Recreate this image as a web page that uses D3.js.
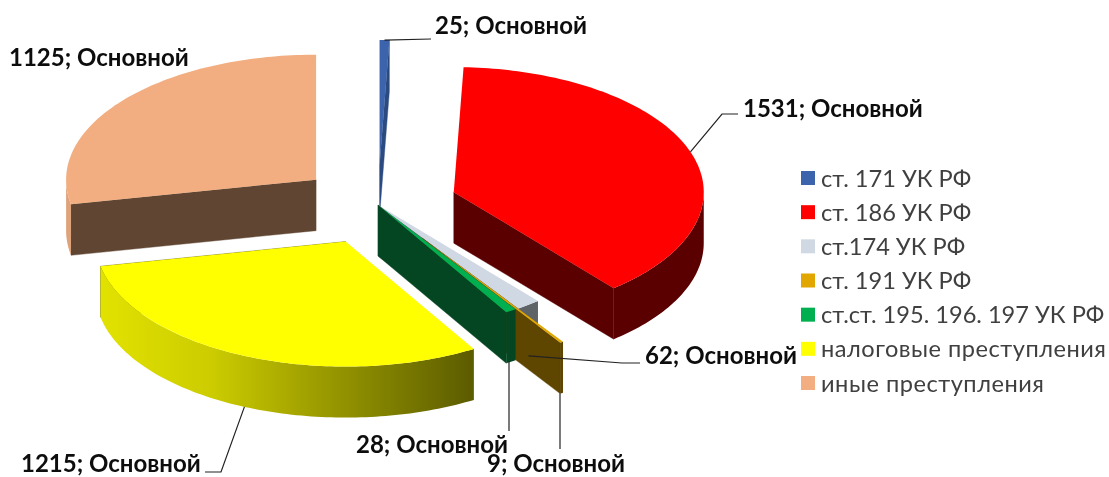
<!DOCTYPE html>
<html><head><meta charset="utf-8">
<script src="https://cdnjs.cloudflare.com/ajax/libs/d3/7.8.5/d3.min.js"></script>
<style>html,body{margin:0;padding:0;background:#fff}svg{display:block;filter:blur(0.35px)}</style>
</head><body><svg id="c" width="1109" height="477"></svg>
<script>
const categories = ["ст. 171 УК РФ","ст. 186 УК РФ","ст.174 УК РФ","ст. 191 УК РФ","ст.ст. 195. 196. 197 УК РФ","налоговые преступления","иные преступления"];
const values = [25,1531,62,9,28,1215,1125];
const seriesName = "Основной";
const colors = ["#3b64ad","#ff0000","#d0d8e4","#e2a600","#00b050","#ffff00","#f2ae81"];
const radialWall = ["#2b4a80","#5a0000","#5e6368","#5e4500","#044622","#5e5e00","#604632"];
const outerWall = ["#2b4a80","#5a0000","#5e6368","#5e4500","#044622",null,"#dfa37c"];
const explodedSlices = new Set([0,1,3,5,6]);

const W=1109,H=477, cx=378, cy=205, R=250, tilt=0.5, depth=51, explode=80;
const svg=d3.select("#c");
const defs=svg.append("defs");
const yg=defs.append("linearGradient").attr("id","yw").attr("gradientUnits","userSpaceOnUse")
  .attr("x1",100).attr("x2",472).attr("y1",0).attr("y2",0);
[[0,"#e2e200"],[0.3,"#cccc00"],[0.55,"#a2a200"],[1,"#5c5c00"]].forEach(s=>yg.append("stop").attr("offset",s[0]).attr("stop-color",s[1]));

const arcs=d3.pie().sort(null).value(d=>d)(values);
const slices=arcs.map((a,i)=>{
  const mid=(a.startAngle+a.endAngle)/2, e=explodedSlices.has(i)?explode:0;
  const ax=cx+e*Math.sin(mid), ay=cy-e*Math.cos(mid)*tilt;
  const pt=(ang,r=R,dz=0)=>[ax+r*Math.sin(ang), ay-r*Math.cos(ang)*tilt+dz];
  return {i,a,mid,ax,ay,pt};
});
const line=d3.line();
const arcAngles=(a0,a1)=>{const n=Math.max(2,Math.ceil((a1-a0)/0.02));return d3.range(n+1).map(k=>a0+(a1-a0)*k/n);};

function drawSlice(s){
  const g=svg.append("g");
  const {a,pt,i}=s;
  const A0=a.startAngle,A1=a.endAngle;
  const apex=pt(0,0), apexD=pt(0,0,depth);
  const rad=ang=>line([apex,pt(ang),pt(ang,R,depth),apexD])+"Z";
  const wall=(d,c)=>g.append("path").attr("d",d).attr("fill",c).attr("stroke",c).attr("stroke-width",0.4);
  // the clockwise end edge faces the viewer in the lower half; the blue sliver shows it too
  if((A1>Math.PI/2 && A1<Math.PI*1.5) || i===0) wall(rad(A1),radialWall[i]);
  // the left slice shows its starting edge
  if(A0>Math.PI && A0<Math.PI*1.5 && A1>Math.PI*1.5) wall(rad(A0),radialWall[i]);
  // outer wall: only the near half of the rim
  const w0=Math.max(A0,Math.PI/2), w1=Math.min(A1,Math.PI*1.5);
  if(w1>w0){
    const aa=arcAngles(w0,w1);
    const poly=aa.map(t=>pt(t)).concat(aa.slice().reverse().map(t=>pt(t,R,depth)));
    const c=outerWall[i]||"url(#yw)";
    g.append("path").attr("d",line(poly)+"Z").attr("fill",c);
  }
  const top=[apex].concat(arcAngles(A0,A1).map(t=>pt(t)));
  g.append("path").attr("d",line(top)+"Z").attr("fill",colors[i]);
}
// back to front
[0,6,1,2,3,4,5].forEach(i=>drawSlice(slices[i]));

const fontL="Lato, 'Open Sans', sans-serif";
const labelLayout=[
 {i:0,x:435,y:34,path:[[431,39]],dz:0},
 {i:1,x:743,y:117,path:[[722,114],[738,114]],dz:0},
 {i:2,x:645,y:364,path:[[622,363],[640,363]],dz:depth},
 {i:3,x:487,y:472,path:[[560,449]],dz:depth,vx:1},
 {i:4,x:356,y:453,path:[[509,431]],dz:depth,vx:1},
 {i:5,x:21,y:472,path:[[221,472],[205,472]],dz:depth},
 {i:6,x:9,y:66}
];
labelLayout.forEach(l=>{
  const s=slices[l.i];
  if(l.path){
    let st=s.pt(s.mid,R,l.dz);
    if(l.vx) st=[l.path[0][0],st[1]];
    svg.append("path").attr("d",line([st].concat(l.path))).attr("fill","none").attr("stroke","#222").attr("stroke-width",1.2);
  }
  svg.append("text").attr("x",l.x).attr("y",l.y)
    .attr("font-family",fontL).attr("font-weight",700).attr("font-size",24).attr("fill","#0d0d0d")
    .text(values[l.i]+"; "+seriesName);
});

const legendWidths=[null,null,null,null,null,285,223];
const legY=d3.scalePoint().domain(categories).range([178,383]);
const leg=svg.append("g").selectAll("g").data(categories).join("g").attr("transform",d=>`translate(801,${legY(d)})`);
leg.append("rect").attr("x",0).attr("y",-7).attr("width",14).attr("height",14).attr("fill",(d,i)=>colors[i]);
leg.append("text").attr("x",20).attr("y",8.5).attr("font-family",fontL).attr("font-size",23.6).attr("fill","#404040")
  .attr("textLength",(d,i)=>legendWidths[i]).text(d=>d);
</script></body></html>
